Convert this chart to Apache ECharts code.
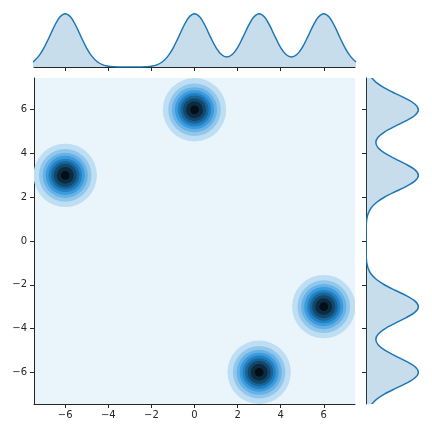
<!DOCTYPE html>
<html>
<head>
<meta charset="utf-8">
<script src="https://cdn.jsdelivr.net/npm/echarts@6/dist/echarts.min.js"></script>
<style>
  html, body { margin: 0; padding: 0; background: #fff; }
  #chart { width: 432px; height: 432px; }
</style>
</head>
<body>
<div id="chart"></div>
<script>
// tick labels shared by both axes of the joint plot
var tickValues = [-6, -4, -2, 0, 2, 4, 6];

// centres of the four density blobs
var blobX = [-6, 0, 3, 6];
var blobY = [3, 6, -6, -3];
// radius (data units) of each filled contour, outermost first
var contourRadii = [1.46, 1.21, 1.04, 0.90, 0.77, 0.65, 0.53, 0.39, 0.20];

// marginal densities (relative height, peak = 1)
var margX = [-7.5, -7.25, -7, -6.75, -6.5, -6.25, -6, -5.75, -5.5, -5.25, -5, -4.75, -4.5, -4.25, -4, -3.75,
  -3.5, -3.25, -3, -2.75, -2.5, -2.25, -2, -1.75, -1.5, -1.25, -1, -0.75, -0.5, -0.25, 0, 0.25, 0.5, 0.75,
  1, 1.25, 1.5, 1.75, 2, 2.25, 2.5, 2.75, 3, 3.25, 3.5, 3.75, 4, 4.25, 4.5, 4.75, 5, 5.25, 5.5, 5.75, 6,
  6.25, 6.5, 6.75, 7, 7.25, 7.5];
var topDensity = [0.094, 0.194, 0.350, 0.554, 0.769, 0.936, 1.000, 0.936, 0.769, 0.554, 0.350, 0.194, 0.094,
  0.040, 0.015, 0.005, 0.001, 0, 0, 0, 0.001, 0.005, 0.015, 0.040, 0.094, 0.194, 0.350, 0.554, 0.769, 0.936,
  1.000, 0.936, 0.769, 0.554, 0.365, 0.234, 0.188, 0.234, 0.365, 0.559, 0.770, 0.936, 1.000, 0.936, 0.770,
  0.559, 0.365, 0.234, 0.188, 0.234, 0.365, 0.559, 0.770, 0.936, 1.000, 0.936, 0.769, 0.554, 0.350, 0.194,
  0.094];
var margY = margX;
var rightDensity = [0.094, 0.194, 0.350, 0.554, 0.770, 0.936, 1.000, 0.936, 0.770, 0.559, 0.365, 0.234, 0.188,
  0.234, 0.365, 0.559, 0.770, 0.936, 1.000, 0.936, 0.769, 0.554, 0.350, 0.194, 0.094, 0.040, 0.015, 0.005,
  0.001, 0, 0, 0, 0.001, 0.005, 0.015, 0.040, 0.094, 0.194, 0.350, 0.554, 0.769, 0.936, 1.000, 0.936, 0.770,
  0.559, 0.365, 0.234, 0.188, 0.234, 0.365, 0.559, 0.770, 0.936, 1.000, 0.936, 0.770, 0.554, 0.350, 0.194,
  0.094];

var AXIS_COLOR = "#262626";
var LINE_COLOR = "#1f77b4";
var FILL_COLOR = "rgba(31,119,180,0.25)";

// colour ramp: white -> base blue -> black (same hue, lightness 1..0)
function hexToRgb(hex) {
  return [1, 3, 5].map(function (i) { return parseInt(hex.substr(i, 2), 16) / 255; });
}
function rgbToHls(c) {
  var mx = Math.max(c[0], c[1], c[2]), mn = Math.min(c[0], c[1], c[2]);
  var l = (mx + mn) / 2, d = mx - mn, h = 0, s = 0;
  if (d > 0) {
    s = l <= 0.5 ? d / (mx + mn) : d / (2 - mx - mn);
    if (mx === c[0]) h = (c[1] - c[2]) / d;
    else if (mx === c[1]) h = 2 + (c[2] - c[0]) / d;
    else h = 4 + (c[0] - c[1]) / d;
    h = ((h / 6) % 1 + 1) % 1;
  }
  return [h, l, s];
}
function hlsToRgb(h, l, s) {
  if (s === 0) return [l, l, l];
  var q = l <= 0.5 ? l * (1 + s) : l + s - l * s;
  var p = 2 * l - q;
  function v(t) {
    t = ((t % 1) + 1) % 1;
    if (t < 1 / 6) return p + (q - p) * 6 * t;
    if (t < 0.5) return q;
    if (t < 2 / 3) return p + (q - p) * (2 / 3 - t) * 6;
    return p;
  }
  return [v(h + 1 / 3), v(h), v(h - 1 / 3)];
}
var baseHls = rgbToHls(hexToRgb(LINE_COLOR));
var ramp = [];
for (var i = 0; i < 12; i++) {
  ramp.push(hlsToRgb(baseHls[0], 1 - i / 11, baseHls[2]));
}
function cmap(t) {
  var pos = t * (ramp.length - 1);
  var k = Math.min(Math.floor(pos), ramp.length - 2);
  var f = pos - k;
  var c = ramp[k].map(function (a, j) { return Math.round(255 * (a + (ramp[k + 1][j] - a) * f)); });
  return "rgb(" + c.join(",") + ")";
}
var nBands = contourRadii.length + 1;
var bandColors = [];
for (var b = 0; b < nBands; b++) bandColors.push(cmap((b + 0.5) / nBands));

function tickLabel(v) {
  return String(v).replace("-", "\u2212");
}

var labelStyle = {
  fontFamily: "DejaVu Sans",
  fontSize: 10,
  color: AXIS_COLOR,
};
var spine = { show: true, onZero: false, lineStyle: { color: AXIS_COLOR, width: 1 } };
var ticks = { show: true, length: 4, customValues: tickValues, lineStyle: { color: AXIS_COLOR } };

var myChart = echarts.init(document.getElementById("chart"), null, { renderer: "canvas" });

var option = {
  animation: false,
  grid: [
    { left: 34, top: 78, width: 321, height: 326, show: true, backgroundColor: bandColors[0], borderWidth: 0 },
    { left: 34, top: 11, width: 321, height: 56 },
    { left: 366, top: 78, width: 55, height: 326 },
  ],
  xAxis: [
    {
      gridIndex: 0,
      type: "value",
      min: -7.45,
      max: 7.45,
      axisLine: spine,
      axisTick: ticks,
      axisLabel: Object.assign({ customValues: tickValues, formatter: tickLabel, margin: 6 }, labelStyle),
      splitLine: { show: false },
    },
    {
      gridIndex: 1,
      type: "value",
      min: -7.45,
      max: 7.45,
      axisLine: spine,
      axisTick: ticks,
      axisLabel: { show: false },
      splitLine: { show: false },
    },
    { gridIndex: 2, type: "value", min: 0, max: 1.05, show: false },
  ],
  yAxis: [
    {
      gridIndex: 0,
      type: "value",
      min: -7.45,
      max: 7.45,
      axisLine: spine,
      axisTick: ticks,
      axisLabel: Object.assign({ customValues: tickValues, formatter: tickLabel, margin: 7 }, labelStyle),
      splitLine: { show: false },
    },
    { gridIndex: 1, type: "value", min: 0, max: 1.05, show: false },
    {
      gridIndex: 2,
      type: "value",
      min: -7.45,
      max: 7.45,
      axisLine: spine,
      axisTick: ticks,
      axisLabel: { show: false },
      splitLine: { show: false },
    },
  ],
  series: [
    // joint density: concentric filled contours per blob
    {
      type: "custom",
      xAxisIndex: 0,
      yAxisIndex: 0,
      clip: true,
      data: blobX.map(function (x, i) { return [x, blobY[i]]; }),
      renderItem: function (params, api) {
        var c = api.coord([api.value(0), api.value(1)]);
        var unit = api.size([1, 1]);
        var k = (unit[0] + unit[1]) / 2;
        return {
          type: "group",
          children: contourRadii.map(function (r, j) {
            return {
              type: "circle",
              shape: { cx: c[0], cy: c[1], r: r * k },
              style: { fill: bandColors[j + 1] },
            };
          }),
        };
      },
    },
    // top marginal
    {
      type: "line",
      xAxisIndex: 1,
      yAxisIndex: 1,
      data: margX.map(function (x, i) { return [x, topDensity[i]]; }),
      smooth: 0.4,
      showSymbol: false,
      lineStyle: { color: LINE_COLOR, width: 1.5 },
      areaStyle: { color: FILL_COLOR, opacity: 1 },
    },
    // right marginal (horizontal orientation)
    {
      type: "custom",
      xAxisIndex: 2,
      yAxisIndex: 2,
      clip: true,
      data: margY.map(function (y, i) { return [rightDensity[i], y]; }),
      renderItem: function (params, api) {
        if (params.dataIndex !== 0) return null;
        var pts = margY.map(function (y, i) { return api.coord([rightDensity[i], y]); });
        var b0 = api.coord([0, margY[0]]);
        var b1 = api.coord([0, margY[margY.length - 1]]);
        return {
          type: "group",
          children: [
            {
              type: "polygon",
              shape: { points: [b0].concat(pts, [b1]) },
              style: { fill: FILL_COLOR },
            },
            {
              type: "polyline",
              shape: { points: pts, smooth: 0.3 },
              style: { stroke: LINE_COLOR, lineWidth: 1.5, fill: null },
            },
          ],
        };
      },
    },
  ],
};

myChart.setOption(option);
</script>
</body>
</html>
